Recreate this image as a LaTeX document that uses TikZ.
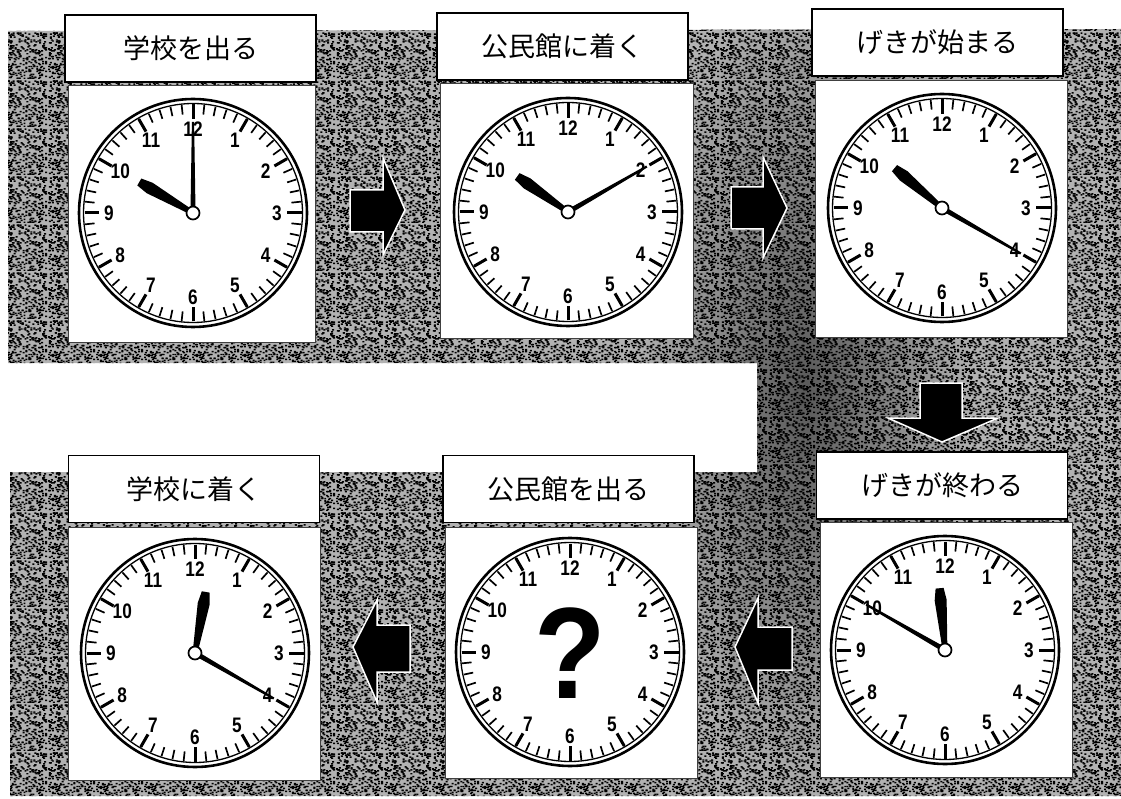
\documentclass[tikz,border=0pt]{standalone}
\usepackage{fontspec}
\usetikzlibrary{patterns}
\newfontfamily\jpfont{Noto Sans CJK JP}
\newfontfamily\numfont[FakeStretch=0.82]{Liberation Sans}
\newfontfamily\qfont{Liberation Sans}
\pgfdeclarepatternformonly{noisetex}{\pgfpointorigin}{\pgfpoint{48pt}{48pt}}{\pgfpoint{48pt}{48pt}}{%
  \pgfmathsetseed{7}%
  \foreach \i in {1,...,330}{%
    \pgfmathsetmacro\px{random(0,46)}%
    \pgfmathsetmacro\py{random(0,46)}%
    \pgfpathrectangle{\pgfpoint{\px pt}{\py pt}}{\pgfpoint{2pt}{1.5pt}}%
    \pgfusepath{fill}%
  }%
}
\tikzset{
  labelbox/.style={draw=black, line width=1.4pt, fill=white, minimum width=251pt, minimum height=67pt, inner sep=0pt,
    font=\jpfont\fontsize{27}{27}\selectfont},
  clockbox/.style={draw=black!75, line width=0.9pt, fill=white, inner sep=0pt},
  bigarrow/.style={fill=black, draw=white, line width=1.5pt, line join=miter},
  numstyle/.style={font=\numfont\bfseries\fontsize{21}{21}\selectfont, inner sep=0pt},
}
\newcommand\dialparts[1]{%
  \draw[line width=2.6pt] (0,0) circle (114);
  \draw[line width=1.3pt] (0,0) circle (109.5);
  \foreach \m in {0,...,59}{\draw[line width=1.7pt] (\m*6:108.5) -- (\m*6:99);}
  \foreach \h in {0,...,11}{\draw[line width=3pt] (\h*30:108.5) -- (\h*30:94);}
  \foreach \n in {1,...,12}{\node[numstyle] (#1-\n) at ({90-30*\n}:84) {\n};}
}
\newcommand\clockat[4]{% name, centre, hour angle, minute angle
  \begin{scope}[shift={(#2)}, yscale=-1]
    \dialparts{#1}
    \begin{scope}[rotate=#4]
      \fill (-2.5,3) -- (2.5,3) -- (1.1,91) -- (-1.1,91) -- cycle;
    \end{scope}
    \begin{scope}[rotate=#3]
      \fill (-2.6,3) -- (2.6,3) -- (6,50) -- (4,62) -- (-4,62) -- (-6,50) -- cycle;
    \end{scope}
    \draw[fill=white, line width=1.7pt] (0,0) circle (6.5);
  \end{scope}}
\def\bandpath{(8,31) -- (1121,29) -- (1121,796) -- (10,796) -- (10,472) -- (757,472) -- (757,363) -- (8,363) -- cycle}
\begin{document}
\begin{tikzpicture}[x=1pt, y=-1pt]
\useasboundingbox (0,0) rectangle (1121,799);
\fill[white] (0,0) rectangle (1121,799);
% grey textured background band
\fill[black!30] \bandpath;
\begin{scope}
  \clip \bandpath;
  \shade[inner color=black!65, outer color=black!30] (805,390) ellipse (170 and 430);
\end{scope}
\fill[pattern=noisetex, pattern color=black] \bandpath;
% arrows
\path[bigarrow] (350,190) -- (383,190) -- (383,158) -- (405,210) -- (383,255) -- (383,232) -- (350,232) -- cycle;
\path[bigarrow] (731,187) -- (763,187) -- (763,157) -- (787,208) -- (763,258) -- (763,229) -- (731,229) -- cycle;
\path[bigarrow] (920,383) -- (962,383) -- (962,418) -- (998,418) -- (942,442) -- (888,418) -- (920,418) -- cycle;
\path[bigarrow] (792,627) -- (758,627) -- (758,598) -- (735,647) -- (758,703) -- (758,670) -- (792,670) -- cycle;
\path[bigarrow] (410,625) -- (377,625) -- (377,600) -- (353,647) -- (377,702) -- (377,672) -- (410,672) -- cycle;
% clock boxes
\node[clockbox, minimum width=247pt, minimum height=257pt] (box1) at (191.5,213.5) {};
\node[clockbox, minimum width=253pt, minimum height=255pt] (box2) at (566.5,210.5) {};
\node[clockbox, minimum width=252pt, minimum height=257pt] (box3) at (941,208.5) {};
\node[clockbox, minimum width=252pt, minimum height=255pt] (box6) at (946,649.5) {};
\node[clockbox, minimum width=252pt, minimum height=251pt] (box5) at (571,652.5) {};
\node[clockbox, minimum width=252pt, minimum height=253pt] (box4) at (194,653.5) {};
% label boxes
\node[labelbox] (lab1) at (190.5,48.5) {学校を出る};
\node[labelbox] (lab2) at (562.5,46.5) {公民館に着く};
\node[labelbox] (lab3) at (937.5,42.5) {げきが始まる};
\node[labelbox] (lab6) at (942,485.5) {げきが終わる};
\node[labelbox] (lab5) at (568.5,489) {公民館を出る};
\node[labelbox] (lab4) at (194,489) {学校に着く};
% clocks
\clockat{c1}{193,213}{300}{0}
\clockat{c2}{568,212}{305}{60}
\clockat{c3}{942,208}{310}{120}
\clockat{c6}{945,650}{355}{300}
\clockat{c4}{195,653}{10}{120}
\begin{scope}[shift={(570,652)}, yscale=-1]
  \dialparts{c5}
\end{scope}
\node[font=\qfont\bfseries\fontsize{130}{130}\selectfont, inner sep=0pt, anchor=base, xscale=0.9] (qmark) at (570,698) {?};
\end{tikzpicture}
\end{document}
